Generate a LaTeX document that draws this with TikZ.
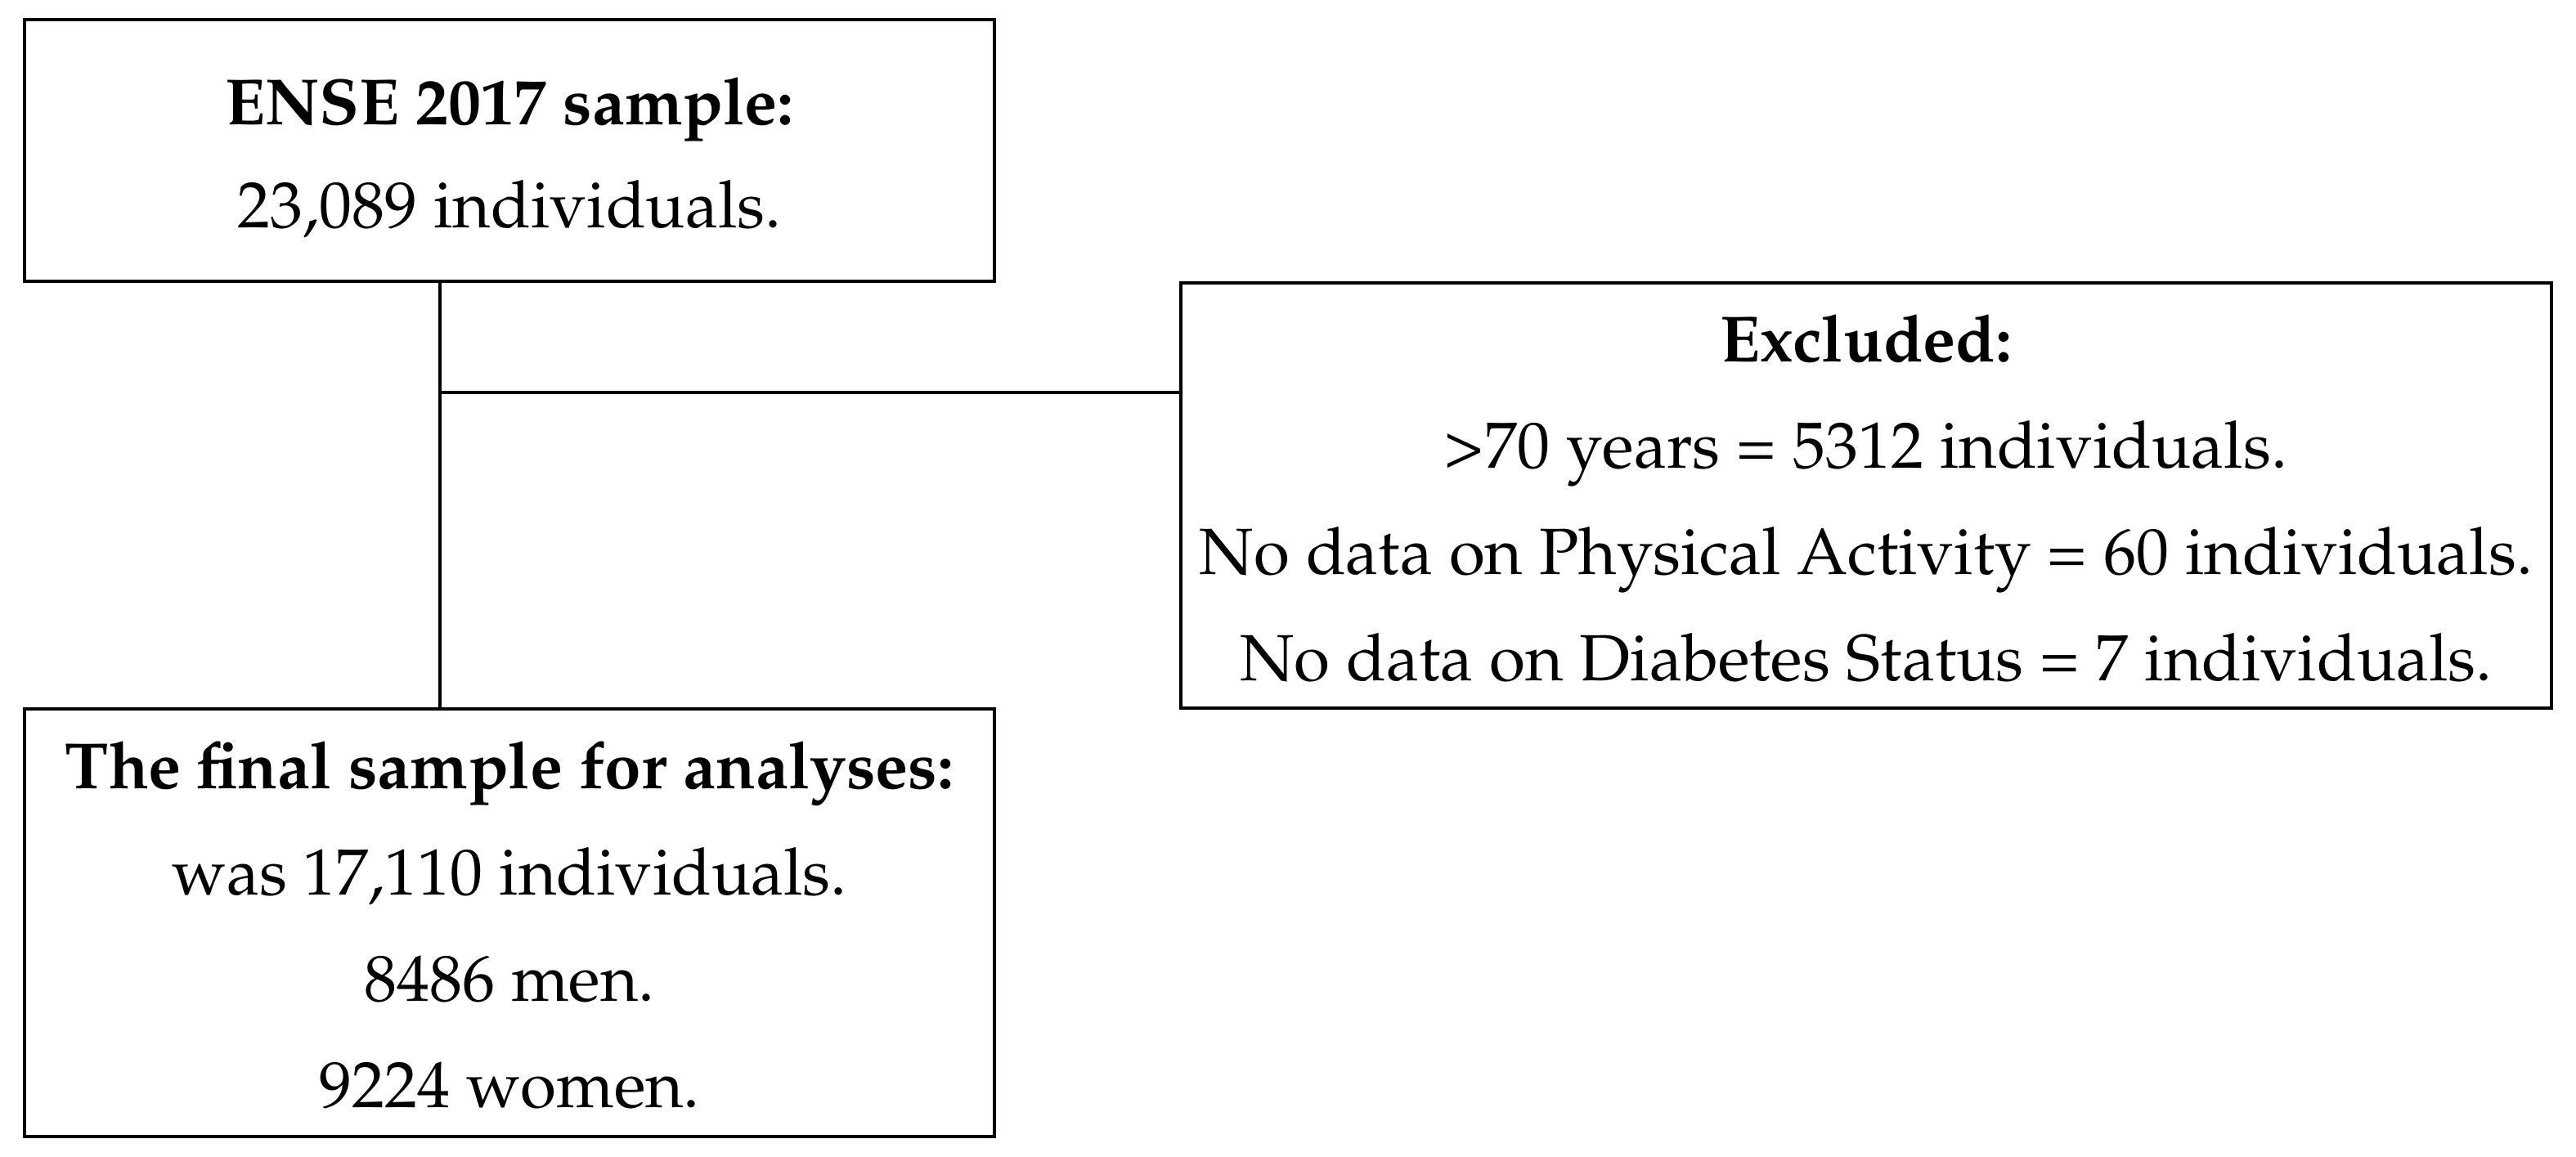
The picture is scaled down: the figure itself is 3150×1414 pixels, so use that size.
\documentclass[tikz,border=0pt]{standalone}
\usepackage[T1]{fontenc}
\renewcommand{\rmdefault}{ppl}
\begin{document}
\begin{tikzpicture}[x=1pt,y=-1pt,
  box/.style={draw=black, line width=4pt, inner sep=0pt, rectangle},
  conn/.style={draw=black, line width=3.5pt},
  txt/.style={anchor=base, inner sep=0pt, font=\fontsize{80}{96}\selectfont}]
\fill[white] (0,0) rectangle (3150,1414);
\useasboundingbox (0,0) rectangle (3150,1414);
% boxes
\node[box, minimum width=1186pt, minimum height=320pt] (b1) at (623,184) {};
\node[box, minimum width=1676pt, minimum height=520pt] (b2) at (2282,606) {};
\node[box, minimum width=1186pt, minimum height=523pt] (b3) at (623,1128.5) {};
% texts
\node[txt] (t11) at (623,152) {\bfseries ENSE 2017 sample:};
\node[txt] (t12) at (623,278) {23,089 individuals.};
\node[txt] (t21) at (2282,442) {\bfseries Excluded:};
\node[txt] (t22) at (2282,572) {\textgreater70 years = 5312 individuals.};
\node[txt] (t23) at (2282,702) {No data on Physical Activity = 60 individuals.};
\node[txt] (t24) at (2282,832) {No data on Diabetes Status = 7 individuals.};
\node[txt] (t31) at (623,964) {\bfseries The final sample for analyses:};
\node[txt] (t32) at (623,1094) {was 17,110 individuals.};
\node[txt] (t33) at (623,1224) {8486 men.};
\node[txt] (t34) at (623,1354) {9224 women.};
% connectors
\coordinate (j) at (538,480);
\draw[conn] (b1.south -| j) -- (b3.north -| j);
\draw[conn] (j) -- (j -| b2.west);
\end{tikzpicture}
\end{document}
